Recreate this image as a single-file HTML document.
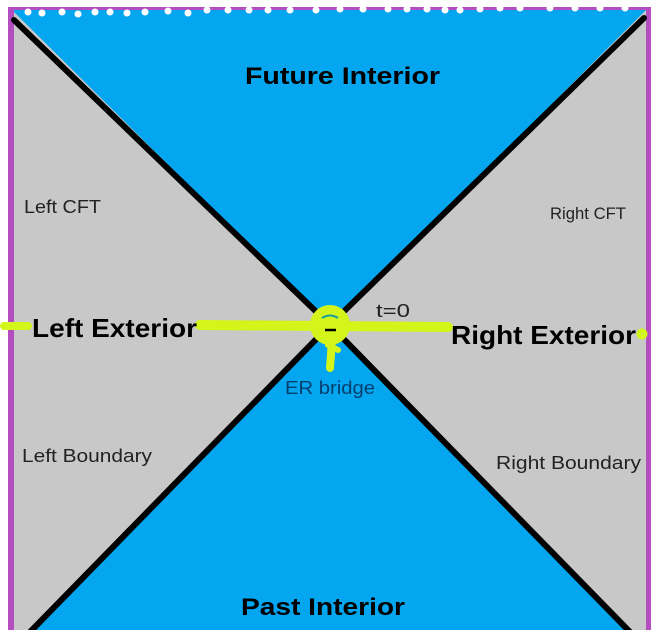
<!DOCTYPE html>
<html><head><style>
html,body{margin:0;padding:0;background:#fff;width:660px;height:630px;overflow:hidden}
svg text{font-family:"Liberation Sans",sans-serif}
</style></head><body>
<svg width="660" height="630" viewBox="0 0 660 630" xmlns="http://www.w3.org/2000/svg">
<rect x="0" y="0" width="660" height="630" fill="#fff"/>
<rect x="10" y="9" width="640" height="621" fill="#c8c8c8"/>
<polygon points="12,10 646,10 330,325" fill="#03a6ef"/>
<polygon points="330,325 30,630 632,630" fill="#03a6ef"/>
<rect x="8" y="9" width="6" height="621" fill="#b44ec0"/>
<rect x="646" y="9" width="5" height="621" fill="#b44ec0"/>
<rect x="8" y="7" width="643" height="3" fill="#b44ec0"/>
<g fill="#fff">
<circle cx="28" cy="12" r="3.5"/><circle cx="42" cy="13" r="3.5"/><circle cx="62" cy="12" r="3.5"/><circle cx="78" cy="14" r="3.5"/><circle cx="95" cy="12" r="3.5"/><circle cx="110" cy="12" r="3.5"/><circle cx="127" cy="13" r="3.5"/><circle cx="145" cy="12" r="3.5"/><circle cx="168" cy="11" r="3.5"/><circle cx="188" cy="13" r="3.5"/><circle cx="207" cy="10" r="3.5"/><circle cx="228" cy="10" r="3.5"/><circle cx="249" cy="10" r="3.5"/><circle cx="268" cy="10" r="3.5"/><circle cx="290" cy="10" r="3.5"/><circle cx="316" cy="10" r="3.5"/><circle cx="340" cy="9" r="3.5"/><circle cx="363" cy="9" r="3.5"/><circle cx="388" cy="9" r="3.5"/><circle cx="407" cy="9" r="3.5"/><circle cx="427" cy="9" r="3.5"/><circle cx="445" cy="10" r="3.5"/><circle cx="460" cy="10" r="3.5"/><circle cx="480" cy="9" r="3.5"/><circle cx="500" cy="8" r="3.5"/><circle cx="520" cy="8" r="3.5"/><circle cx="550" cy="8" r="3.5"/><circle cx="575" cy="8" r="3.5"/><circle cx="600" cy="8" r="3.5"/><circle cx="625" cy="8" r="3.5"/>
</g>
<g stroke="#000" stroke-width="6" stroke-linecap="round">
<line x1="14" y1="20" x2="330" y2="325"/>
<line x1="330" y1="325" x2="30" y2="632"/>
<line x1="644" y1="18" x2="330" y2="325"/>
<line x1="330" y1="325" x2="630" y2="632"/>
</g>
<g stroke="#d4f51a" stroke-linecap="round" fill="none">
<line x1="4" y1="326" x2="28" y2="326" stroke-width="8"/>
<line x1="200" y1="325" x2="448" y2="327" stroke-width="10"/>
<circle cx="330" cy="325" r="15" stroke-width="10" fill="#d4f51a"/>
<path d="M332 340 L330 368" stroke-width="8"/>
<path d="M328 345 L338 350" stroke-width="6"/>
<circle cx="642" cy="334" r="3" stroke-width="5"/>
</g>
<path d="M322 318 Q330 313 338 318" stroke="#1aa0a0" stroke-width="2" fill="none"/>
<line x1="325" y1="330" x2="336" y2="330" stroke="#000" stroke-width="2.5"/>
<g fill="#000" font-weight="bold">
<text x="245" y="84" font-size="24" textLength="195" lengthAdjust="spacingAndGlyphs">Future Interior</text>
<text x="241" y="615" font-size="24" textLength="164" lengthAdjust="spacingAndGlyphs">Past Interior</text>
<text x="32" y="337" font-size="26" textLength="165" lengthAdjust="spacingAndGlyphs">Left Exterior</text>
<text x="451" y="344" font-size="26" textLength="185" lengthAdjust="spacingAndGlyphs">Right Exterior</text>
</g>
<g fill="#222" font-size="18">
<text x="24" y="213" textLength="77" lengthAdjust="spacingAndGlyphs">Left CFT</text>
<text x="550" y="219" font-size="17" textLength="76" lengthAdjust="spacingAndGlyphs">Right CFT</text>
<text x="22" y="462" textLength="130" lengthAdjust="spacingAndGlyphs">Left Boundary</text>
<text x="496" y="469" textLength="145" lengthAdjust="spacingAndGlyphs">Right Boundary</text>
<text x="376" y="317" font-size="18" textLength="34" lengthAdjust="spacingAndGlyphs">t=0</text>
<text x="285" y="394" font-size="18" fill="#063e6e" textLength="90" lengthAdjust="spacingAndGlyphs">ER bridge</text>
</g>
</svg>
</body></html>
